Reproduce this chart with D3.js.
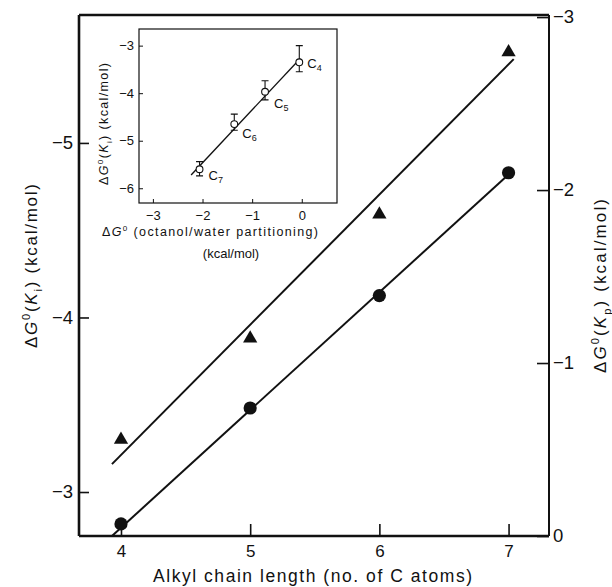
<!DOCTYPE html>
<html><head><meta charset="utf-8">
<script src="https://cdn.jsdelivr.net/npm/d3@7"></script>
<style>
body{margin:0;background:#fff}
svg{display:block}
text{font-family:"Liberation Sans",Arial,Helvetica,sans-serif;fill:#111}
</style>
</head><body>
<svg id="c" width="612" height="587"></svg>
<script>
// ---- main chart data ----
const chainLength = [4, 5, 6, 7];
const dgKi = [-3.30, -3.88, -4.59, -5.52];      // triangles, left axis
const dgKp = [-0.07, -0.74, -1.39, -2.10];      // circles, right axis
const fitKiX = [3.93, 7.04], fitKiY = [-3.16, -5.48];
const fitKpX = [3.93, 7.00], fitKpY = [0.00, -2.09];
const xTicks = [4, 5, 6, 7];
const leftTicks = [-5, -4, -3];
const rightTicks = [-3, -2, -1, 0];

// ---- inset data ----
const insetOctanol = [-0.05, -0.74, -1.36, -2.06];
const insetKi = [-3.35, -3.97, -4.65, -5.60];
const insetErrHi = [-3.00, -3.74, -4.44, -5.44];
const insetErrLo = [-3.55, -4.14, -4.78, -5.74];
const insetNames = ["4", "5", "6", "7"];
const insetFitX = [-2.23, -0.03], insetFitY = [-5.72, -3.27];
const insetXTicks = [-3, -2, -1, 0];
const insetYTicks = [-3, -4, -5, -6];

const svg = d3.select("#c");
const fmt = d => d === 0 ? "0" : (d < 0 ? "\u2212" : "") + Math.abs(d);

// ---- main scales ----
const L = 79, R = 549, T = 15, B = 536;
const x = d3.scaleLinear().domain([3.675, 7.313]).range([L, R]);
const yL = d3.scaleLinear().domain([-5.733, -2.748]).range([T, B]);
const yR = d3.scaleLinear().domain([-3.012, 0]).range([T, B]);

function styleAxis(g, fs) {
  g.select(".domain").remove();
  g.selectAll(".tick line").attr("stroke", "#111").attr("stroke-width", 1.6);
  g.selectAll(".tick text").attr("font-size", fs).attr("fill", "#111")
    .attr("font-family", '"Liberation Sans",Arial,sans-serif');
}

svg.append("g").attr("transform", `translate(0,${B})`)
  .call(d3.axisBottom(x).tickValues(xTicks).tickSizeInner(-12).tickSizeOuter(0).tickPadding(9).tickFormat(fmt))
  .call(g => styleAxis(g, 17));
svg.append("g").attr("transform", `translate(${L},0)`)
  .call(d3.axisLeft(yL).tickValues(leftTicks).tickSizeInner(-10).tickSizeOuter(0).tickPadding(6).tickFormat(fmt))
  .call(g => styleAxis(g, 18.5));
svg.append("g").attr("transform", `translate(${R},0)`)
  .call(d3.axisRight(yR).tickValues(rightTicks).tickSizeInner(-12).tickSizeOuter(0).tickPadding(4).tickFormat(fmt))
  .call(g => styleAxis(g, 18.5));

// frame
svg.append("path").attr("d", `M${L},${B}H${R}M${L},${T}V${B}M${L},${T}H${R}`)
  .attr("stroke", "#111").attr("stroke-width", 2.6).attr("fill", "none");
svg.append("path").attr("d", `M${R},${T}V${B}`)
  .attr("stroke", "#111").attr("stroke-width", 2).attr("fill", "none");

// fit lines
const lineL = d3.line().x(d => x(d[0])).y(d => yL(d[1]));
const lineR = d3.line().x(d => x(d[0])).y(d => yR(d[1]));
svg.append("path").attr("d", lineL(d3.zip(fitKiX, fitKiY)))
  .attr("stroke", "#111").attr("stroke-width", 2).attr("fill", "none");
svg.append("path").attr("d", lineR(d3.zip(fitKpX, fitKpY)))
  .attr("stroke", "#111").attr("stroke-width", 2).attr("fill", "none");

// markers
svg.selectAll(".tri").data(d3.zip(chainLength, dgKi)).join("path")
  .attr("transform", d => `translate(${x(d[0])},${yL(d[1])})`)
  .attr("d", d3.symbol(d3.symbolTriangle, 88)).attr("fill", "#111");
svg.selectAll(".dot").data(d3.zip(chainLength, dgKp)).join("circle")
  .attr("cx", d => x(d[0])).attr("cy", d => yR(d[1])).attr("r", 6.6).attr("fill", "#111");

// label helper
function dgLabel(t, sub, fs) {
  t.append("tspan").text("\u0394");
  t.append("tspan").attr("font-style", "italic").text("G");
  t.append("tspan").attr("dy", -fs * 0.42).attr("font-size", fs * 0.65).text("0");
  if (sub === null) { t.append("tspan").attr("dy", fs * 0.42).text(" "); return; }
  t.append("tspan").attr("dy", fs * 0.42).text("(");
  t.append("tspan").attr("font-style", "italic").text("K");
  t.append("tspan").attr("dy", fs * 0.28).attr("font-size", fs * 0.65).text(sub);
  t.append("tspan").attr("dy", -fs * 0.28).text(") (kcal/mol)");
}

// axis titles
svg.append("text").attr("x", 153).attr("y", 582).attr("font-size", 17.5)
  .attr("textLength", 319).attr("lengthAdjust", "spacing")
  .text("Alkyl chain length (no. of C atoms)");
{
  const t = svg.append("text").attr("transform", "translate(37,348) rotate(-90)")
    .attr("font-size", 17).attr("textLength", 164).attr("lengthAdjust", "spacing");
  dgLabel(t, "i", 17);
}
{
  const t = svg.append("text").attr("transform", "translate(606,286) rotate(-90)")
    .attr("text-anchor", "middle")
    .attr("font-size", 17).attr("textLength", 174).attr("lengthAdjust", "spacing");
  dgLabel(t, "p", 17);
}

// ---- inset ----
const iL = 139, iR = 337, iT = 29, iB = 203;
const ix = d3.scaleLinear().domain([-3.28, 0.71]).range([iL, iR]);
const iy = d3.scaleLinear().domain([-2.65, -6.31]).range([iT, iB]);
const inset = svg.append("g");
inset.append("rect").attr("x", iL).attr("y", iT).attr("width", iR - iL).attr("height", iB - iT)
  .attr("fill", "#fff").attr("stroke", "#111").attr("stroke-width", 1.2);
inset.append("g").attr("transform", `translate(0,${iB})`)
  .call(d3.axisBottom(ix).tickValues(insetXTicks).tickSizeInner(-4).tickSizeOuter(0).tickPadding(8).tickFormat(fmt))
  .call(g => styleAxis(g, 13)).call(g => g.selectAll(".tick line").attr("stroke-width", 1));
inset.append("g").attr("transform", `translate(${iL},0)`)
  .call(d3.axisLeft(iy).tickValues(insetYTicks).tickSizeInner(-4).tickSizeOuter(0).tickPadding(5).tickFormat(fmt))
  .call(g => styleAxis(g, 13)).call(g => g.selectAll(".tick line").attr("stroke-width", 1));

const iline = d3.line().x(d => ix(d[0])).y(d => iy(d[1]));
inset.append("path").attr("d", iline(d3.zip(insetFitX, insetFitY)))
  .attr("stroke", "#111").attr("stroke-width", 1.3).attr("fill", "none");

const ipts = insetOctanol.map((v, i) => ({x: v, y: insetKi[i], hi: insetErrHi[i], lo: insetErrLo[i], n: insetNames[i]}));
const eg = inset.selectAll(".err").data(ipts).join("g");
eg.append("path").attr("d", d => {
  const cx = ix(d.x), h = iy(d.hi), l = iy(d.lo);
  return `M${cx},${h}V${l}M${cx - 3.5},${h}H${cx + 3.5}M${cx - 3.5},${l}H${cx + 3.5}`;
}).attr("stroke", "#111").attr("stroke-width", 1.1).attr("fill", "none");
eg.append("circle").attr("cx", d => ix(d.x)).attr("cy", d => iy(d.y)).attr("r", 3.4)
  .attr("fill", "#fff").attr("stroke", "#111").attr("stroke-width", 1.1);

const labelOffset = [[8, 6], [9, 16], [8, 14], [9, 11]];
inset.selectAll(".clab").data(ipts).join("text")
  .attr("x", (d, i) => ix(d.x) + labelOffset[i][0]).attr("y", (d, i) => iy(d.y) + labelOffset[i][1])
  .attr("font-size", 13)
  .each(function (d) {
    const t = d3.select(this);
    t.append("tspan").text("C");
    t.append("tspan").attr("dy", 3).attr("font-size", 9).text(d.n);
  });

{
  const t = svg.append("text").attr("transform", "translate(108,124) rotate(-90)")
    .attr("text-anchor", "middle").attr("font-size", 12.5)
    .attr("textLength", 122).attr("lengthAdjust", "spacing");
  dgLabel(t, "i", 12.5);
}
{
  const t = svg.append("text").attr("x", 102).attr("y", 236).attr("font-size", 12.5)
    .attr("textLength", 216).attr("lengthAdjust", "spacing");
  dgLabel(t, null, 12.5);
  t.append("tspan").text("(octanol/water partitioning)");
}
svg.append("text").attr("x", 231).attr("y", 258).attr("text-anchor", "middle")
  .attr("font-size", 13).text("(kcal/mol)");
</script>
</body></html>
